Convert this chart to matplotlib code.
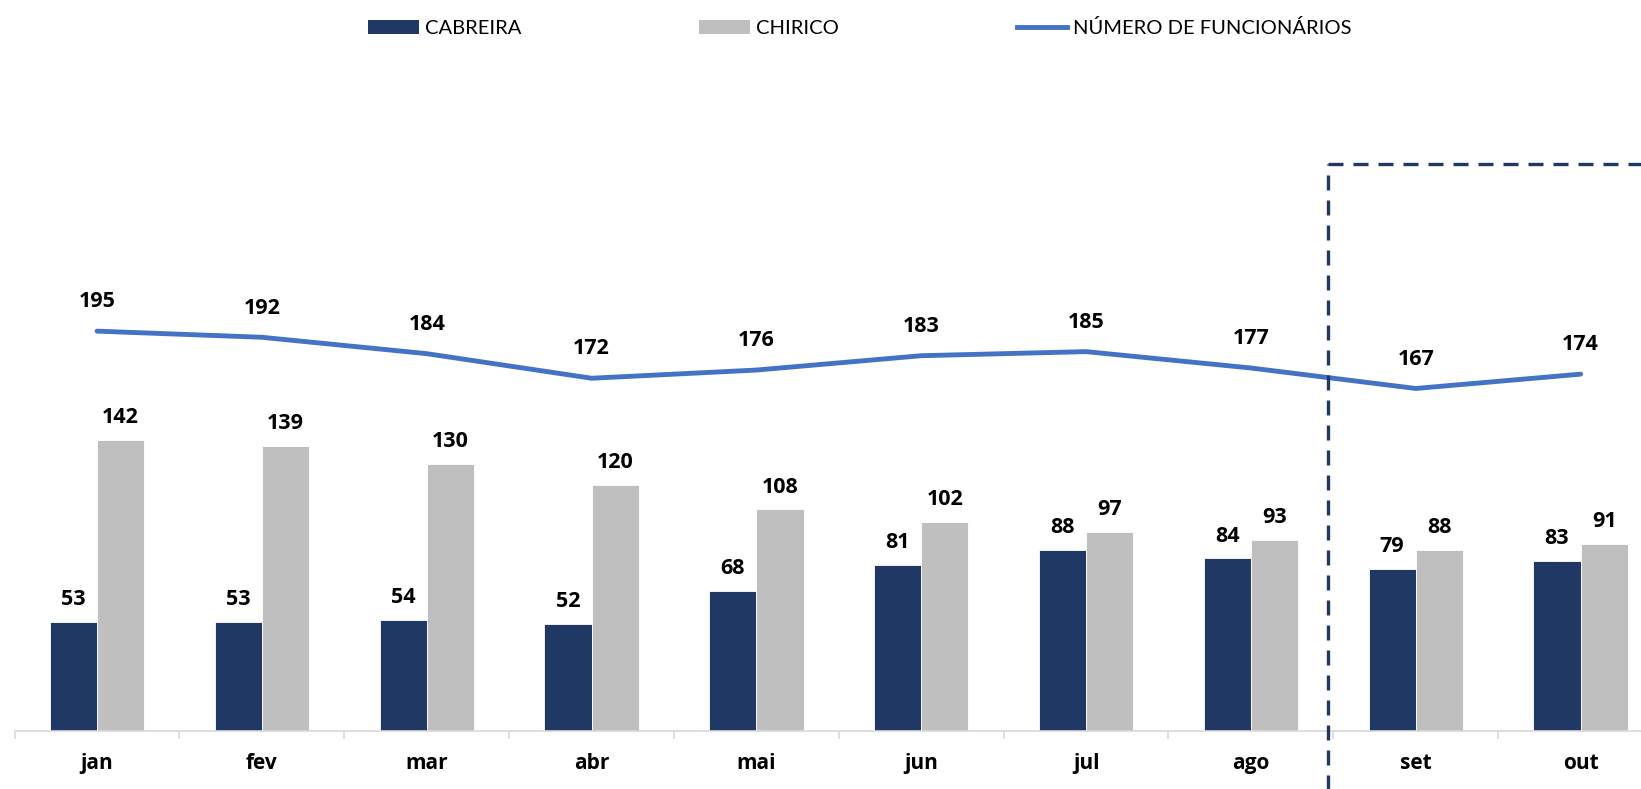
import matplotlib
matplotlib.use("Agg")
import matplotlib.pyplot as plt
import numpy as np
from matplotlib.patches import Patch
from matplotlib.lines import Line2D

plt.rcParams['font.family'] = ['Lato', 'DejaVu Sans']

months = ["jan", "fev", "mar", "abr", "mai", "jun", "jul", "ago", "set", "out"]
cabreira = [53, 53, 54, 52, 68, 81, 88, 84, 79, 83]
chirico = [142, 139, 130, 120, 108, 102, 97, 93, 88, 91]
funcionarios = [195, 192, 184, 172, 176, 183, 185, 177, 167, 174]

C_CAB = "#203864"
C_CHI = "#BFBFBF"
C_LINE = "#4472C4"

W, H = 1641, 789
fig = plt.figure(figsize=(W / 100, H / 100), dpi=100)
ax = fig.add_axes([14.65 / W, (H - 730.5) / H, 1648.35 / W, 300 * 2.048 / H])

x = np.arange(len(months))
bw = 0.286
ax.bar(x - bw / 2, cabreira, bw, color=C_CAB, edgecolor="white", linewidth=0.6, zorder=2)
ax.bar(x + bw / 2, chirico, bw, color=C_CHI, edgecolor="white", linewidth=0.6, zorder=2)
ax.plot(x, funcionarios, color=C_LINE, lw=3.5, solid_capstyle="round", solid_joinstyle="round", zorder=3)

BOLD = ["Open Sans", "DejaVu Sans"]
fs = 15.5
for xi, v in zip(x, cabreira):
    ax.annotate(str(v), (xi - bw / 2, v), xytext=(0, 8.5), textcoords="offset points",
                ha="center", va="bottom", fontsize=fs, fontweight="bold", family=BOLD)
for xi, v in zip(x, chirico):
    ax.annotate(str(v), (xi + bw / 2, v), xytext=(0, 8.5), textcoords="offset points",
                ha="center", va="bottom", fontsize=fs, fontweight="bold", family=BOLD)
for xi, v in zip(x, funcionarios):
    ax.annotate(str(v), (xi, v), xytext=(0, 13.5), textcoords="offset points",
                ha="center", va="bottom", fontsize=fs, fontweight="bold", family=BOLD)

ax.set_xlim(-0.5, len(months) - 0.5)
ax.set_ylim(0, 300)
ax.set_yticks([])
for s in ["top", "right", "left"]:
    ax.spines[s].set_visible(False)
ax.spines["bottom"].set_color("#D9D9D9")
ax.spines["bottom"].set_linewidth(1.2)

ax.set_xticks(x)
ax.set_xticklabels(months, fontsize=15, fontweight="bold", family=BOLD)
ax.tick_params(axis="x", which="major", length=0, pad=16.5)
ax.set_xticks(np.arange(-0.5, len(months)), minor=True)
ax.tick_params(axis="x", which="minor", length=6, width=1.2, color="#D9D9D9")

# dashed projection box
xd = 7.47
ytop = 276.4
ax.plot([xd, xd], [-40, ytop], color=C_CAB, lw=2.4, dashes=(4.5, 3), clip_on=False, zorder=4)
ax.plot([xd, 10.5], [ytop, ytop], color=C_CAB, lw=2.4, dashes=(4.5, 3), clip_on=False, zorder=4)

handles = [Patch(facecolor=C_CAB, label="CABREIRA"),
           Patch(facecolor=C_CHI, label="CHIRICO"),
           Line2D([0], [0], color=C_LINE, lw=3.5, label="NÚMERO DE FUNCIONÁRIOS")]
fig.legend(handles=handles, loc="center", bbox_to_anchor=(0.524, 1 - 28 / H), ncol=3,
           frameon=False, fontsize=14.5, handlelength=2.5, handletextpad=0.3,
           columnspacing=8.85)

fig.savefig("out.png", dpi=100)
